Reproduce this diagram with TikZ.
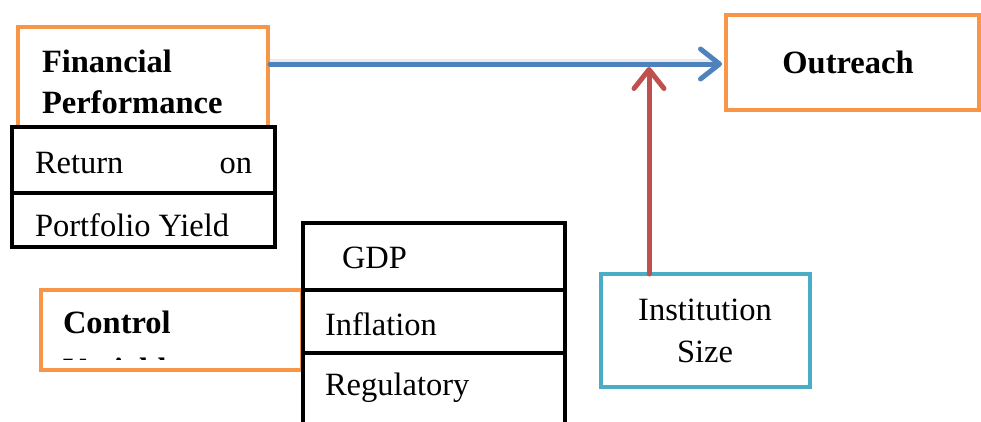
\documentclass[tikz,border=0pt]{standalone}
\usepackage{fontspec}
\setmainfont{Liberation Serif}
\usetikzlibrary{arrows.meta}
\definecolor{boxorange}{HTML}{F79646}
\definecolor{boxcyan}{HTML}{4BACC6}
\definecolor{linkblue}{HTML}{4F81BD}
\definecolor{linkred}{HTML}{C0504D}
\begin{document}
\begin{tikzpicture}[x=1pt,y=-1pt,
  every node/.style={font=\fontsize{32.5}{40}\selectfont},
  boldtext/.style={font=\fontsize{32.5}{40}\selectfont\bfseries},
  boxbase/.style={draw, rectangle, inner sep=0pt, outer sep=0pt, anchor=north west, fill=white},
  orangebox/.style={boxbase, draw=boxorange, line width=3.5pt},
  blackbox/.style={boxbase, draw=black, line width=4.5pt},
  cyanbox/.style={boxbase, draw=boxcyan, line width=4pt},
  txt/.style={anchor=base west, inner sep=0pt, outer sep=0pt},
  ctxt/.style={anchor=base, inner sep=0pt, outer sep=0pt},
  link/.style={line width=5pt, line cap=round,
    -{Straight Barb[length=19pt, width=30pt, line cap=round, line join=round]}},
  shade/.style={line width=3pt, draw=black, opacity=0.08}
]
\useasboundingbox (0,0) rectangle (981,421);
\clip (0,0) rectangle (981,421);

% Financial performance block
\node[orangebox, minimum width=250pt, minimum height=100pt] (fin) at (18,27) {};
\node[blackbox, minimum width=263pt, minimum height=66pt] (ret) at (12,127) {};
\node[blackbox, minimum width=263pt, minimum height=54pt] (port) at (12,193) {};
\node[txt, boldtext] (tfin1) at (42,72) {Financial};
\node[txt, boldtext] (tfin2) at (42,113) {Performance};
\node[txt] (tret) at (35,173) {\makebox[217pt][l]{Return\hfill on}};
\node[txt] (tport) at (35,236) {Portfolio Yield};

% Outreach
\node[orangebox, minimum width=253pt, minimum height=95pt] (out) at (726,15) {};
\node[ctxt, boldtext] (tout) at (848,73) {Outreach};

% Institution size
\node[cyanbox, minimum width=209pt, minimum height=113pt] (inst) at (601,274) {};
\node[ctxt] (tinst1) at (705,320) {Institution};
\node[ctxt] (tinst2) at (705,362) {Size};

% Control variables
\node[orangebox, minimum width=261pt, minimum height=80pt] (ctrl) at (41,290) {};
\node[txt, boldtext] (tctrl) at (63,333) {Control};
\begin{scope}
  \clip (41,290) rectangle (302,359);
  \node[txt, boldtext] (tvar) at (63,380) {Variables};
\end{scope}
\node[blackbox, minimum width=262pt, minimum height=67pt] (gdp) at (303,223) {};
\node[blackbox, minimum width=262pt, minimum height=63pt] (infl) at (303,290) {};
\node[blackbox, minimum width=262pt, minimum height=90pt] (reg) at (303,353) {};
\node[txt] (tgdp) at (342,268) {GDP};
\node[txt] (tinfl) at (325,335) {Inflation};
\node[txt] (treg) at (325,395) {Regulatory};

% Connectors
\coordinate (bstart) at (270,64);
\coordinate (bend) at (722,64);
\coordinate (rtip) at (649,67);
\draw[shade, line cap=butt] ([yshift=3.5pt]bstart) -- ([yshift=3.5pt,xshift=-6pt]bend);
\draw[link, draw=linkblue] (bstart) -- (bend);
\draw[link, draw=linkred] (inst.north -| rtip) -- (rtip);
\end{tikzpicture}
\end{document}
